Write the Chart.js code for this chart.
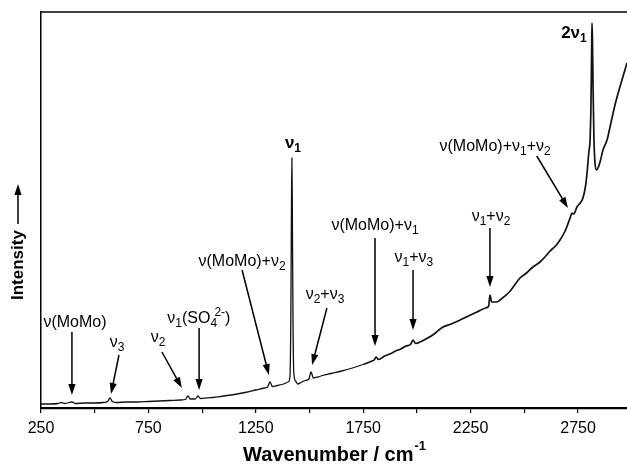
<!DOCTYPE html>
<html>
<head>
<meta charset="utf-8">
<script src="https://cdn.jsdelivr.net/npm/chart.js@4"></script>
<style>
  html, body { margin: 0; padding: 0; background: #fff; }
  #wrap { width: 627px; height: 468px; position: relative; }
</style>
</head>
<body>
<div id="wrap"><canvas id="spec"></canvas></div>
<script>
// Raman spectrum, wavenumber (cm-1) vs relative intensity
const wavenumber = [
  250, 290, 330, 345, 360, 395, 410, 450, 500, 540, 560, 571, 582, 600, 650, 700,
  750, 800, 850, 900, 922, 934, 945, 968, 981, 992, 1050, 1100, 1150, 1200, 1250,
  1290, 1305, 1316, 1327, 1350, 1380, 1400, 1409, 1413, 1416, 1418, 1420, 1423,
  1427, 1435, 1445, 1460, 1480, 1497, 1507, 1518, 1540, 1560, 1600, 1650, 1700,
  1750, 1790, 1801, 1810, 1821, 1850, 1880, 1900, 1925, 1950, 1970, 1982, 1994,
  2020, 2050, 2080, 2121, 2160, 2201, 2240, 2280, 2320, 2334, 2340, 2348, 2370,
  2387, 2410, 2430, 2455, 2480, 2510, 2540, 2573, 2600, 2620, 2645, 2666, 2690,
  2713, 2722, 2730, 2745, 2760, 2773, 2785, 2792, 2800, 2806, 2810, 2813, 2815,
  2817, 2820, 2824, 2829, 2836, 2843, 2855, 2866, 2885, 2899, 2922, 2945, 2978
];
const intensity = [
  4, 4, 4.5, 5.5, 4.5, 6, 4.5, 5, 5, 5.5, 6.5, 10, 6.5, 5.5, 6, 6,
  6.5, 7, 7.5, 8, 8.5, 12, 9, 9, 12, 9.5, 10.5, 12, 13.5, 15.5, 18,
  20, 21, 26, 21.5, 22.5, 24, 26, 31, 90, 200, 250, 200, 90,
  35, 27, 24, 25.5, 27.5, 29, 36, 30, 31, 32.5, 34.5, 37, 40,
  43.5, 47, 48, 51, 48.5, 52, 54.5, 57, 59, 62, 63.5, 68, 64.5,
  66.5, 70, 74, 81, 84, 88, 92, 96, 100, 102, 113, 106, 106,
  108, 112, 116, 123, 130, 135, 141, 146, 152, 157, 162, 168, 177,
  190, 195, 194, 201, 205, 210, 222, 235, 255, 268, 300, 350, 385,
  370, 320, 270, 245, 238, 240, 248, 258, 268, 281, 303, 321, 345
];

const tickValues = [250, 500, 750, 1000, 1250, 1500, 1750, 2000, 2250, 2500, 2750];
const tickLabels = ['250', '750', '1250', '1750', '2250', '2750'];

// band assignments: label anchor and arrow, all in (cm-1, intensity)
const bands = [
  { text: 'ν(MoMo)',         at: [408, 85],   from: [394, 76],   to: [394, 13] },
  { text: 'ν_{3}',           at: [604, 65],   from: [613, 53],   to: [576, 14] },
  { text: 'ν_{2}',           at: [795, 70],   from: [813, 56],   to: [906, 20] },
  { text: 'ν_{1}(SO_{4}^{2-})', at: [985, 89], from: [986, 80],  to: [986, 18] },
  { text: 'ν(MoMo)+ν_{2}',   at: [1186, 146], from: [1186, 138], to: [1311, 33] },
  { text: 'ν_{1}',           at: [1423, 265], bold: true },
  { text: 'ν_{2}+ν_{3}',     at: [1572, 113], from: [1581, 100], to: [1512, 43] },
  { text: 'ν(MoMo)+ν_{1}',   at: [1805, 182], from: [1805, 170], to: [1805, 62] },
  { text: 'ν_{1}+ν_{3}',     at: [1986, 150], from: [1982, 138], to: [1982, 78] },
  { text: 'ν_{1}+ν_{2}',     at: [2345, 191], from: [2340, 180], to: [2340, 121] },
  { text: 'ν(MoMo)+ν_{1}+ν_{2}', at: [2364, 261], from: [2558, 252], to: [2703, 200] },
  { text: '2ν_{1}',          at: [2731, 375], bold: true }
];

const FONT = "'Liberation Sans', Arial, sans-serif";

// split 'ν_{1}(SO_{4}^{2-})' into plain / sub / sup pieces
function parseRich(s) {
  const out = [];
  const re = /_\{([^}]*)\}|\^\{([^}]*)\}|([^_^]+)/g;
  let m;
  while ((m = re.exec(s))) {
    if (m[1] !== undefined) out.push({ t: m[1], k: 'sub' });
    else if (m[2] !== undefined) out.push({ t: m[2], k: 'sup' });
    else out.push({ t: m[3], k: 'n' });
  }
  return out;
}

function drawRich(ctx, s, cx, cy, size, bold) {
  const parts = parseRich(s);
  const w = bold ? 'bold ' : '';
  const small = Math.round(size * 0.72);
  let total = 0, lastSubX = null, lastSubW = 0;
  const placed = [];
  parts.forEach(p => {
    ctx.font = w + (p.k === 'n' ? size : small) + 'px ' + FONT;
    const pw = ctx.measureText(p.t).width;
    let x = total;
    if (p.k === 'sup' && lastSubX !== null) {
      // superscript sits over the tail of the subscript
      x = lastSubX + lastSubW * 0.6;
      total = Math.max(lastSubX + lastSubW, x + pw);
    } else {
      total += pw;
    }
    if (p.k === 'sub') { lastSubX = x; lastSubW = pw; } else { lastSubX = null; }
    placed.push({ p, x });
  });
  const x0 = cx - total / 2;
  ctx.fillStyle = '#000';
  ctx.textBaseline = 'middle';
  ctx.textAlign = 'left';
  placed.forEach(({ p, x }) => {
    ctx.font = w + (p.k === 'n' ? size : small) + 'px ' + FONT;
    let dy = 0;
    if (p.k === 'sub') dy = size * 0.32;
    if (p.k === 'sup') dy = -size * 0.42;
    ctx.fillText(p.t, x0 + x, cy + dy);
  });
}

function arrow(ctx, x1, y1, x2, y2) {
  const a = Math.atan2(y2 - y1, x2 - x1);
  const len = 11, half = 3.6;
  ctx.strokeStyle = '#000';
  ctx.lineWidth = 1.5;
  ctx.beginPath();
  ctx.moveTo(x1, y1);
  ctx.lineTo(x2 - Math.cos(a) * len * 0.8, y2 - Math.sin(a) * len * 0.8);
  ctx.stroke();
  ctx.fillStyle = '#000';
  ctx.beginPath();
  ctx.moveTo(x2, y2);
  ctx.lineTo(x2 - Math.cos(a) * len + Math.sin(a) * half, y2 - Math.sin(a) * len - Math.cos(a) * half);
  ctx.lineTo(x2 - Math.cos(a) * len - Math.sin(a) * half, y2 - Math.sin(a) * len + Math.cos(a) * half);
  ctx.closePath();
  ctx.fill();
}

const bandLabels = {
  id: 'bandLabels',
  afterDatasetsDraw(chart) {
    const { ctx, scales: { x, y } } = chart;
    ctx.save();
    bands.forEach(b => {
      if (b.from) {
        arrow(ctx, x.getPixelForValue(b.from[0]), y.getPixelForValue(b.from[1]),
                   x.getPixelForValue(b.to[0]),   y.getPixelForValue(b.to[1]));
      }
      drawRich(ctx, b.text, x.getPixelForValue(b.at[0]), y.getPixelForValue(b.at[1]),
               b.bold ? 17 : 16, !!b.bold);
    });
    ctx.restore();
  }
};

// frame top line plus the two axis titles
const frame = {
  id: 'frame',
  afterDraw(chart) {
    const { ctx, chartArea: a } = chart;
    ctx.save();
    ctx.strokeStyle = '#000';
    ctx.lineWidth = 1.5;
    ctx.beginPath();
    ctx.moveTo(a.left, a.top);
    ctx.lineTo(a.right, a.top);
    ctx.stroke();

    // x title with superscript
    ctx.fillStyle = '#000';
    ctx.textBaseline = 'alphabetic';
    ctx.textAlign = 'left';
    const main = 'Wavenumber / cm';
    ctx.font = 'bold 20px ' + FONT;
    const mw = ctx.measureText(main).width;
    ctx.font = 'bold 13px ' + FONT;
    const sw = ctx.measureText('-1').width;
    const tx = (a.left + a.right) / 2 - (mw + sw) / 2;
    ctx.font = 'bold 20px ' + FONT;
    ctx.fillText(main, tx, 461);
    ctx.font = 'bold 13px ' + FONT;
    ctx.fillText('-1', tx + mw + 1, 450);

    // y title, rotated, with arrow
    ctx.translate(18, 300);
    ctx.rotate(-Math.PI / 2);
    ctx.font = 'bold 17px ' + FONT;
    ctx.textBaseline = 'middle';
    ctx.fillText('Intensity', 0, 0);
    const iw = ctx.measureText('Intensity').width;
    ctx.restore();
    ctx.save();
    arrow(ctx, 18, 300 - iw - 6, 18, 300 - iw - 46);
    ctx.restore();
  }
};

new Chart(document.getElementById('spec'), {
  type: 'line',
  data: {
    datasets: [{
      data: wavenumber.map((w, i) => ({ x: w, y: intensity[i] })),
      borderColor: '#111',
      borderWidth: 1.3,
      pointRadius: 0,
      cubicInterpolationMode: 'monotone',
      fill: false,
      segment: { borderWidth: c => c.p0.parsed.x >= 1750 ? 1.7 : 1.3 }
    }]
  },
  options: {
    responsive: true,
    maintainAspectRatio: false,
    animation: false,
    devicePixelRatio: 1,
    layout: { padding: { left: 0, right: 0, top: 12, bottom: 0 } },
    plugins: { legend: { display: false }, tooltip: { enabled: false } },
    scales: {
      x: {
        type: 'linear',
        min: 250, max: 2978,
        afterBuildTicks: s => { s.ticks = tickValues.map(v => ({ value: v })); },
        afterFit: s => { s.height = 60; },
        ticks: {
          autoSkip: false, maxRotation: 0, padding: 6,
          color: '#000', font: { family: FONT, size: 16 },
          callback: v => tickLabels.includes(String(v)) ? String(v) : ''
        },
        grid: { drawOnChartArea: false, drawTicks: true, tickLength: 5, color: '#000', lineWidth: 1.2 },
        border: { display: true, color: '#000', width: 2.2 }
      },
      y: {
        min: 0, max: 396,
        afterFit: s => { s.width = 41; },
        ticks: { display: false },
        grid: { display: false },
        border: { display: true, color: '#000', width: 1.5 }
      }
    }
  },
  plugins: [bandLabels, frame]
});
</script>
</body>
</html>
